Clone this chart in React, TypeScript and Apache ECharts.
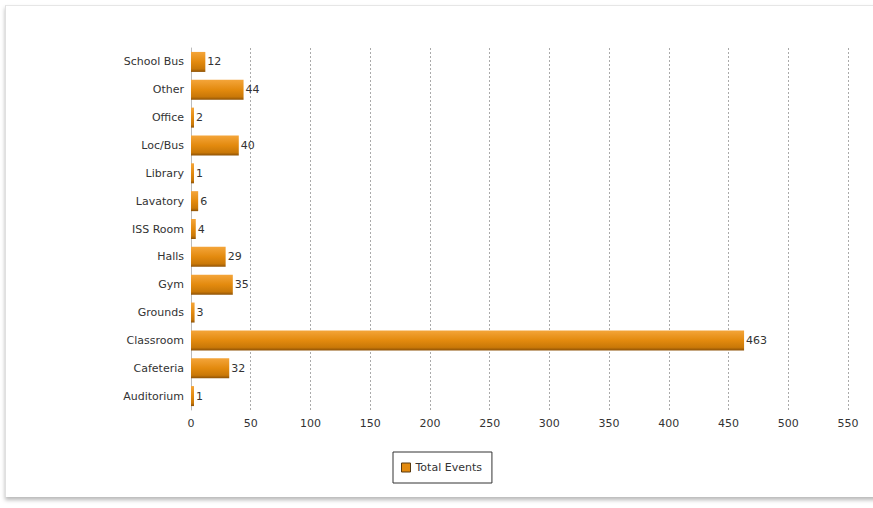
import React, { useEffect, useRef } from "react";
import * as echarts from "echarts";

const categories = ["Auditorium", "Cafeteria", "Classroom", "Grounds", "Gym", "Halls", "ISS Room", "Lavatory", "Library", "Loc/Bus", "Office", "Other", "School Bus"];
const totalEvents = [1, 32, 463, 3, 35, 29, 4, 6, 1, 40, 2, 44, 12];
const seriesName = "Total Events";

const FONT = "DejaVu Sans, Verdana, sans-serif";

export default function App() {
  const ref = useRef<HTMLDivElement>(null);
  useEffect(() => {
    document.body.style.margin = "0";
    const chart = echarts.init(ref.current!, null, { renderer: "svg" });
    chart.setOption({
      animation: false,
      backgroundColor: "transparent",
      textStyle: { fontFamily: FONT },
      grid: { left: 191, top: 48, width: 657, height: 362, containLabel: false },
      legend: {
        data: [seriesName],
        top: 452,
        left: 393,
        borderColor: "#333",
        borderWidth: 1,
        borderRadius: 0,
        padding: [10, 10, 10, 8],
        itemWidth: 9,
        itemHeight: 9,
        itemGap: 5,
        icon: "rect",
        textStyle: { fontSize: 11, color: "#333", fontFamily: FONT },
        itemStyle: { color: "#E38A0E", borderColor: "#5a3a10", borderWidth: 1 },
      },
      xAxis: {
        type: "value",
        min: 0,
        max: 550,
        interval: 50,
        axisLine: { show: false },
        axisTick: { show: false },
        axisLabel: { fontSize: 11, color: "#333", margin: 8, fontFamily: FONT },
        splitLine: { show: true, lineStyle: { color: "#aaa", type: [2, 2], width: 1 } },
      },
      yAxis: {
        type: "category",
        data: categories,
        axisLine: { show: true, lineStyle: { color: "#bbb" } },
        axisTick: { show: false },
        axisLabel: { fontSize: 11, color: "#333", margin: 7, fontFamily: FONT },
      },
      series: [
        {
          name: seriesName,
          type: "bar",
          data: totalEvents,
          barWidth: 20,
          barMinHeight: 3,
          itemStyle: {
            color: new echarts.graphic.LinearGradient(0, 0, 0, 1, [
              { offset: 0, color: "#F4A53A" },
              { offset: 0.5, color: "#E38A0E" },
              { offset: 0.85, color: "#C97808" },
              { offset: 1, color: "#8E5206" },
            ]),
          },
          label: { show: true, position: "right", distance: 2, fontSize: 11, color: "#333", fontFamily: FONT },
        },
      ],
    });
    return () => chart.dispose();
  }, []);
  return (
    <div style={{ position: "fixed", left: 0, top: 0, width: 873, height: 508, background: "#fff", overflow: "hidden" }}>
      <div
        style={{
          position: "absolute",
          left: 5,
          top: 5,
          width: 880,
          height: 491,
          borderTop: "1px solid #e6e6e6",
          borderLeft: "1px solid #e0e0e0",
          boxShadow: "0 3px 4px rgba(0,0,0,0.28)",
          background: "#fff",
        }}
      />
      <div ref={ref} style={{ position: "absolute", left: 0, top: 0, width: 873, height: 508 }} />
    </div>
  );
}
